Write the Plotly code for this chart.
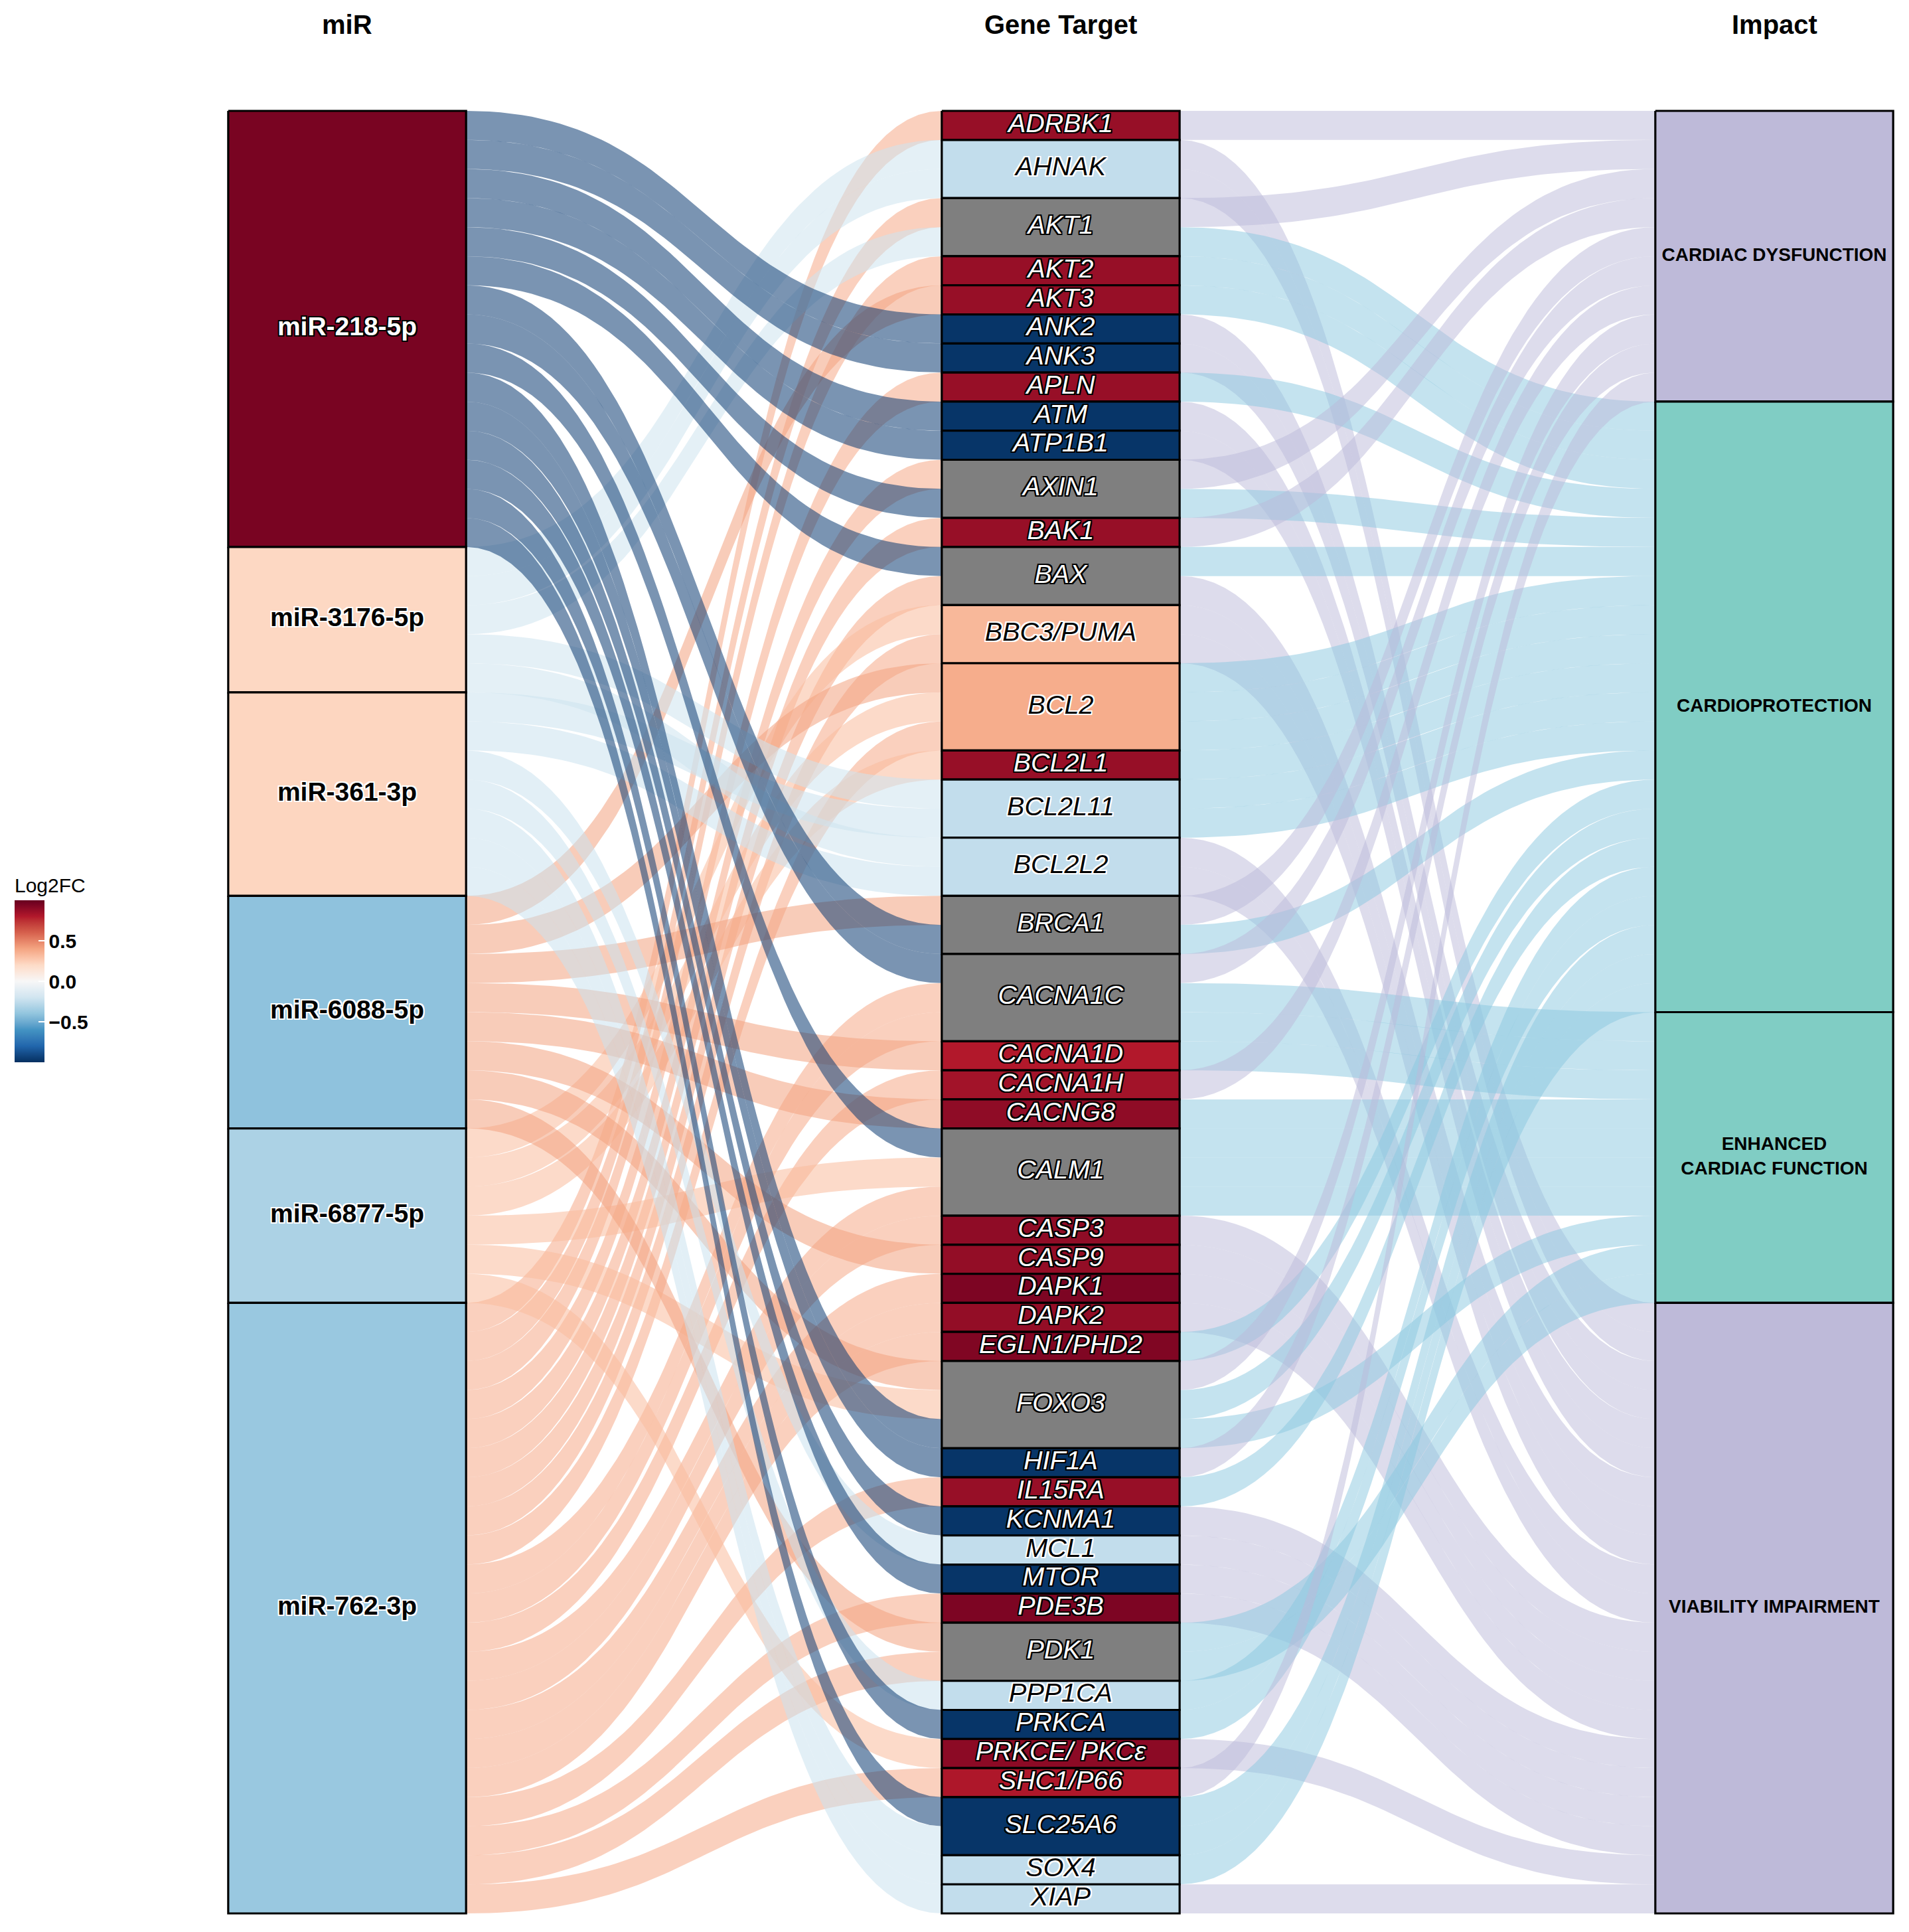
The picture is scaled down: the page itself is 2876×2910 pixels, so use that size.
import numpy as np
import plotly.graph_objects as go

# ---------------- data ----------------
mirs = ["miR-218-5p", "miR-3176-5p", "miR-361-3p", "miR-6088-5p", "miR-6877-5p", "miR-762-3p"]
mir_log2fc = [0.95, 0.21, 0.22, -0.41, -0.32, -0.38]

genes = ["ADRBK1", "AHNAK", "AKT1", "AKT2", "AKT3", "ANK2", "ANK3", "APLN", "ATM", "ATP1B1",
         "AXIN1", "BAK1", "BAX", "BBC3/PUMA", "BCL2", "BCL2L1", "BCL2L11", "BCL2L2", "BRCA1",
         "CACNA1C", "CACNA1D", "CACNA1H", "CACNG8", "CALM1", "CASP3", "CASP9", "DAPK1", "DAPK2",
         "EGLN1/PHD2", "FOXO3", "HIF1A", "IL15RA", "KCNMA1", "MCL1", "MTOR", "PDE3B", "PDK1",
         "PPP1CA", "PRKCA", "PRKCE/ PKCε", "SHC1/P66", "SLC25A6", "SOX4", "XIAP"]
gene_log2fc = [0.87, -0.25, None, 0.87, 0.87, -0.98, -0.98, 0.87, -0.98, -0.98,
               None, 0.87, None, 0.33, 0.37, 0.87, -0.25, -0.25, None,
               None, 0.80, 0.84, 0.89, None, 0.89, 0.88, 0.94, 0.88,
               0.93, None, -0.98, 0.87, -0.98, -0.25, -0.98, 0.94, None,
               -0.25, -0.98, 0.90, 0.81, -0.98, -0.25, -0.25]

impacts = ["CARDIAC DYSFUNCTION", "CARDIOPROTECTION", "ENHANCED CARDIAC FUNCTION", "VIABILITY IMPAIRMENT"]
impact_labels = ["CARDIAC DYSFUNCTION", "CARDIOPROTECTION", "ENHANCED<br>CARDIAC FUNCTION", "VIABILITY IMPAIRMENT"]
impact_effect = ["harmful", "protective", "protective", "harmful"]

link_mir = [
    "miR-762-3p", "miR-3176-5p", "miR-3176-5p", "miR-762-3p", "miR-3176-5p", "miR-762-3p",
    "miR-6088-5p", "miR-218-5p", "miR-218-5p", "miR-762-3p", "miR-218-5p", "miR-218-5p",
    "miR-762-3p", "miR-218-5p", "miR-762-3p", "miR-218-5p", "miR-762-3p", "miR-6877-5p",
    "miR-762-3p", "miR-6088-5p", "miR-6877-5p", "miR-762-3p", "miR-6877-5p", "miR-3176-5p",
    "miR-361-3p", "miR-3176-5p", "miR-361-3p", "miR-6088-5p", "miR-218-5p", "miR-218-5p",
    "miR-762-3p", "miR-762-3p", "miR-6088-5p", "miR-762-3p", "miR-6088-5p", "miR-218-5p",
    "miR-6877-5p", "miR-762-3p", "miR-762-3p", "miR-6088-5p", "miR-762-3p", "miR-762-3p",
    "miR-762-3p", "miR-6088-5p", "miR-6877-5p", "miR-218-5p", "miR-218-5p", "miR-762-3p",
    "miR-218-5p", "miR-361-3p", "miR-218-5p", "miR-762-3p", "miR-6088-5p", "miR-762-3p",
    "miR-361-3p", "miR-218-5p", "miR-6877-5p", "miR-762-3p", "miR-218-5p", "miR-361-3p",
    "miR-361-3p", "miR-361-3p"]
link_gene = [
    "ADRBK1", "AHNAK", "AHNAK", "AKT1", "AKT1", "AKT2",
    "AKT3", "ANK2", "ANK3", "APLN", "ATM", "ATP1B1",
    "AXIN1", "AXIN1", "BAK1", "BAX", "BAX", "BBC3/PUMA",
    "BBC3/PUMA", "BCL2", "BCL2", "BCL2", "BCL2L1", "BCL2L11",
    "BCL2L11", "BCL2L2", "BCL2L2", "BRCA1", "BRCA1", "CACNA1C",
    "CACNA1C", "CACNA1C", "CACNA1D", "CACNA1H", "CACNG8", "CALM1",
    "CALM1", "CALM1", "CASP3", "CASP9", "DAPK1", "DAPK2",
    "EGLN1/PHD2", "FOXO3", "FOXO3", "FOXO3", "HIF1A", "IL15RA",
    "KCNMA1", "MCL1", "MTOR", "PDE3B", "PDK1", "PDK1",
    "PPP1CA", "PRKCA", "PRKCE/ PKCε", "SHC1/P66", "SLC25A6", "SLC25A6",
    "SOX4", "XIAP"]
link_impact = [
    "CARDIAC DYSFUNCTION", "VIABILITY IMPAIRMENT", "VIABILITY IMPAIRMENT", "CARDIAC DYSFUNCTION", "CARDIOPROTECTION", "CARDIOPROTECTION",
    "CARDIOPROTECTION", "VIABILITY IMPAIRMENT", "VIABILITY IMPAIRMENT", "CARDIOPROTECTION", "VIABILITY IMPAIRMENT", "VIABILITY IMPAIRMENT",
    "CARDIAC DYSFUNCTION", "CARDIOPROTECTION", "CARDIAC DYSFUNCTION", "CARDIOPROTECTION", "VIABILITY IMPAIRMENT", "VIABILITY IMPAIRMENT",
    "VIABILITY IMPAIRMENT", "CARDIOPROTECTION", "CARDIOPROTECTION", "CARDIOPROTECTION", "CARDIOPROTECTION", "CARDIOPROTECTION",
    "CARDIOPROTECTION", "VIABILITY IMPAIRMENT", "VIABILITY IMPAIRMENT", "CARDIAC DYSFUNCTION", "CARDIOPROTECTION", "CARDIAC DYSFUNCTION",
    "ENHANCED CARDIAC FUNCTION", "ENHANCED CARDIAC FUNCTION", "ENHANCED CARDIAC FUNCTION", "CARDIAC DYSFUNCTION", "ENHANCED CARDIAC FUNCTION", "ENHANCED CARDIAC FUNCTION",
    "ENHANCED CARDIAC FUNCTION", "ENHANCED CARDIAC FUNCTION", "VIABILITY IMPAIRMENT", "VIABILITY IMPAIRMENT", "VIABILITY IMPAIRMENT", "VIABILITY IMPAIRMENT",
    "CARDIOPROTECTION", "CARDIAC DYSFUNCTION", "CARDIOPROTECTION", "ENHANCED CARDIAC FUNCTION", "CARDIAC DYSFUNCTION", "CARDIOPROTECTION",
    "VIABILITY IMPAIRMENT", "VIABILITY IMPAIRMENT", "VIABILITY IMPAIRMENT", "VIABILITY IMPAIRMENT", "ENHANCED CARDIAC FUNCTION", "ENHANCED CARDIAC FUNCTION",
    "CARDIOPROTECTION", "CARDIOPROTECTION", "VIABILITY IMPAIRMENT", "CARDIAC DYSFUNCTION", "CARDIOPROTECTION", "CARDIOPROTECTION",
    "CARDIOPROTECTION", "VIABILITY IMPAIRMENT"]

axis_titles = ["miR", "Gene Target", "Impact"]

# ---------------- styling ----------------
RDBU_STOPS = ["#053061", "#2166ac", "#4393c3", "#92c5de", "#d1e5f0", "#f7f7f7",
              "#fddbc7", "#f4a582", "#d6604d", "#b2182b", "#67001f"]
NA_COLOR = "#7f7f7f"
EFFECT_FLOW = {"harmful": "rgba(188,185,217,0.5)", "protective": "rgba(137,199,223,0.5)"}
IMPACT_FILL = {"harmful": "#bebad9", "protective": "#80cdc4"}
FONT = "Liberation Sans, Arial, sans-serif"
LEFT_ALPHA = 0.55

FIG_W, FIG_H = 2860, 2890
X_RANGE = [0.52093, 3.18140]
Y_RANGE = [62.365, -3.631]
HALF = 1.0 / 6.0


# Lab interpolation (as ggplot's gradientn)
def _hex2rgb(h):
    h = h.lstrip("#")
    return np.array([int(h[i:i + 2], 16) for i in (0, 2, 4)], dtype=float)


def _rgb2lab(c):
    c = c / 255.0
    c = np.where(c > 0.04045, ((c + 0.055) / 1.055) ** 2.4, c / 12.92)
    M = np.array([[0.4124564, 0.3575761, 0.1804375],
                  [0.2126729, 0.7151522, 0.0721750],
                  [0.0193339, 0.1191920, 0.9503041]])
    xyz = M @ c / np.array([0.95047, 1.0, 1.08883])
    f = np.where(xyz > 216 / 24389, np.cbrt(xyz), (24389 / 27 * xyz + 16) / 116)
    return np.array([116 * f[1] - 16, 500 * (f[0] - f[1]), 200 * (f[1] - f[2])])


def _lab2rgb(lab):
    L, a, b = lab
    fy = (L + 16) / 116
    fx = fy + a / 500
    fz = fy - b / 200
    f = np.array([fx, fy, fz])
    xyz = np.where(f ** 3 > 216 / 24389, f ** 3, (116 * f - 16) / (24389 / 27))
    xyz = xyz * np.array([0.95047, 1.0, 1.08883])
    Mi = np.array([[3.2404542, -1.5371385, -0.4985314],
                   [-0.9692660, 1.8760108, 0.0415560],
                   [0.0556434, -0.2040259, 1.0572252]])
    c = Mi @ xyz
    c = np.clip(c, 0, 1)
    c = np.where(c > 0.0031308, 1.055 * c ** (1 / 2.4) - 0.055, 12.92 * c)
    return np.clip(c * 255, 0, 255)


_LABS = [_rgb2lab(_hex2rgb(h)) for h in RDBU_STOPS]


def fc_rgb(v):
    if v is None:
        return None
    p = min(max((v + 1) / 2, 0.0), 1.0) * (len(_LABS) - 1)
    i = min(int(np.floor(p)), len(_LABS) - 2)
    f = p - i
    return _lab2rgb(_LABS[i] * (1 - f) + _LABS[i + 1] * f)


def fc_hex(v):
    c = fc_rgb(v)
    if c is None:
        return NA_COLOR
    return "#%02x%02x%02x" % tuple(int(round(t)) for t in c)


def fc_rgba(v, a):
    r, g, b = fc_rgb(v)
    return "rgba(%d,%d,%d,%.2f)" % (round(r), round(g), round(b), a)


COLORBAR_SCALE = [[k / 40, fc_hex(-1 + 2 * k / 40)] for k in range(41)]

mi = {m: i for i, m in enumerate(mirs)}
gi = {g: i for i, g in enumerate(genes)}
pi = {p: i for i, p in enumerate(impacts)}
rm = [mi[m] for m in link_mir]
rg = [gi[g] for g in link_gene]
rp = [pi[p] for p in link_impact]
R = len(rm)


def stack(node, key, n_nodes):
    counts = np.bincount(node, minlength=n_nodes)
    tops = np.concatenate([[0], np.cumsum(counts)[:-1]])
    cursor = tops.astype(float).copy()
    pos = [0.0] * R
    for r in sorted(range(R), key=lambda r: (node[r],) + key(r) + (r,)):
        pos[r] = cursor[node[r]]
        cursor[node[r]] += 1
    return pos, tops, counts


mir_pos, mir_top, mir_cnt = stack(rm, lambda r: (rg[r], rp[r]), len(mirs))
gene_pos, gene_top, gene_cnt = stack(rg, lambda r: (rp[r], rm[r]), len(genes))
imp_pos, imp_top, imp_cnt = stack(rp, lambda r: (rg[r], rm[r]), len(impacts))


def ribbon(x0, x1, ya, yb, n=60):
    t = np.linspace(0, 1, n)
    xm = (x0 + x1) / 2
    bx = (1 - t) ** 3 * x0 + 3 * (1 - t) ** 2 * t * xm + 3 * (1 - t) * t ** 2 * xm + t ** 3 * x1
    s = 3 * (1 - t) * t ** 2 + t ** 3
    top = ya + (yb - ya) * s
    bot = (ya + 1) + (yb - ya) * s
    return np.concatenate([bx, bx[::-1]]), np.concatenate([top, bot[::-1]])


fig = go.Figure()

# flows miR -> gene
for r in range(R):
    xs, ys = ribbon(1 + HALF, 2 - HALF, mir_pos[r], gene_pos[r])
    fig.add_trace(go.Scatter(x=xs, y=ys, mode="lines", fill="toself", line=dict(width=0),
                             fillcolor=fc_rgba(-mir_log2fc[rm[r]], LEFT_ALPHA), hoverinfo="skip"))
# flows gene -> impact
for r in range(R):
    xs, ys = ribbon(2 + HALF, 3 - HALF, gene_pos[r], imp_pos[r])
    fig.add_trace(go.Scatter(x=xs, y=ys, mode="lines", fill="toself", line=dict(width=0),
                             fillcolor=EFFECT_FLOW[impact_effect[rp[r]]], hoverinfo="skip"))


def stratum(xc, y0, y1, color):
    fig.add_trace(go.Scatter(x=[xc - HALF, xc + HALF, xc + HALF, xc - HALF, xc - HALF],
                             y=[y0, y0, y1, y1, y0], mode="lines", fill="toself",
                             fillcolor=color, line=dict(color="black", width=3.2), hoverinfo="skip"))


for i in range(len(mirs)):
    stratum(1, mir_top[i], mir_top[i] + mir_cnt[i], fc_hex(mir_log2fc[i]))
for i in range(len(genes)):
    stratum(2, gene_top[i], gene_top[i] + gene_cnt[i], fc_hex(gene_log2fc[i]))
for i in range(len(impacts)):
    stratum(3, imp_top[i], imp_top[i] + imp_cnt[i], IMPACT_FILL[impact_effect[i]])


def outline(col, w=2):
    parts = []
    for dx, dy in [(-w, 0), (w, 0), (0, -w), (0, w), (-w, -w), (w, -w), (-w, w), (w, w)]:
        parts.append("%dpx %dpx 0px %s" % (dx, dy, col))
    return ", ".join(parts)


def dark(v):
    return v is None or abs(v) > 0.55


def add_labels(xc, names, tops, cnts, vals, size, style, weight):
    for is_dark in (True, False):
        xs, ys, tx = [], [], []
        for n, t, c, v in zip(names, tops, cnts, vals):
            if dark(v) == is_dark:
                xs.append(xc)
                ys.append(t + c / 2)
                tx.append(n)
        if not xs:
            continue
        fig.add_trace(go.Scatter(
            x=xs, y=ys, text=tx, mode="text", textposition="middle center", hoverinfo="skip",
            textfont=dict(family=FONT, size=size, style=style, weight=weight,
                          color="white" if is_dark else "black",
                          shadow=outline("black" if is_dark else "white"))))


add_labels(1, mirs, mir_top, mir_cnt, mir_log2fc, 39, "normal", "bold")
add_labels(2, genes, gene_top, gene_cnt, gene_log2fc, 39.5, "italic", "normal")

fig.add_trace(go.Scatter(
    x=[3] * len(impacts), y=[imp_top[i] + imp_cnt[i] / 2 for i in range(len(impacts))],
    text=impact_labels, mode="text", textposition="middle center", hoverinfo="skip",
    textfont=dict(family=FONT, size=28, weight="bold", color="black")))

# colour bar
fig.add_trace(go.Scatter(
    x=[0], y=[-50], mode="markers", hoverinfo="skip",
    marker=dict(color=[0], colorscale=COLORBAR_SCALE, cmin=-1, cmax=1, showscale=True, opacity=0,
                colorbar=dict(
                    x=14 / FIG_W, xanchor="left", xpad=0, ypad=0,
                    y=1 - 1592 / FIG_H, yanchor="bottom",
                    thickness=45, thicknessmode="pixels", len=282, lenmode="pixels",
                    outlinewidth=0, ticks="inside", ticklen=9, tickwidth=2, tickcolor="white",
                    tickvals=[-0.5, 0, 0.5], ticktext=["\u22120.5", "0.0", "0.5"],
                    tickfont=dict(family=FONT, size=30, weight="bold", color="black"),
                    title=dict(text="Log2FC", side="top",
                               font=dict(family=FONT, size=30, color="black"))))))

for k, t in enumerate(axis_titles):
    fig.add_annotation(x=k + 1, y=-2.97, xref="x", yref="y", text=t, showarrow=False,
                       font=dict(family=FONT, size=40, weight="bold", color="black"))

fig.update_layout(
    width=FIG_W, height=FIG_H, margin=dict(l=0, r=0, t=0, b=0),
    paper_bgcolor="white", plot_bgcolor="white", showlegend=False,
    xaxis=dict(range=X_RANGE, visible=False, fixedrange=True),
    yaxis=dict(range=Y_RANGE, visible=False, fixedrange=True),
)

fig.write_html("out.html")
